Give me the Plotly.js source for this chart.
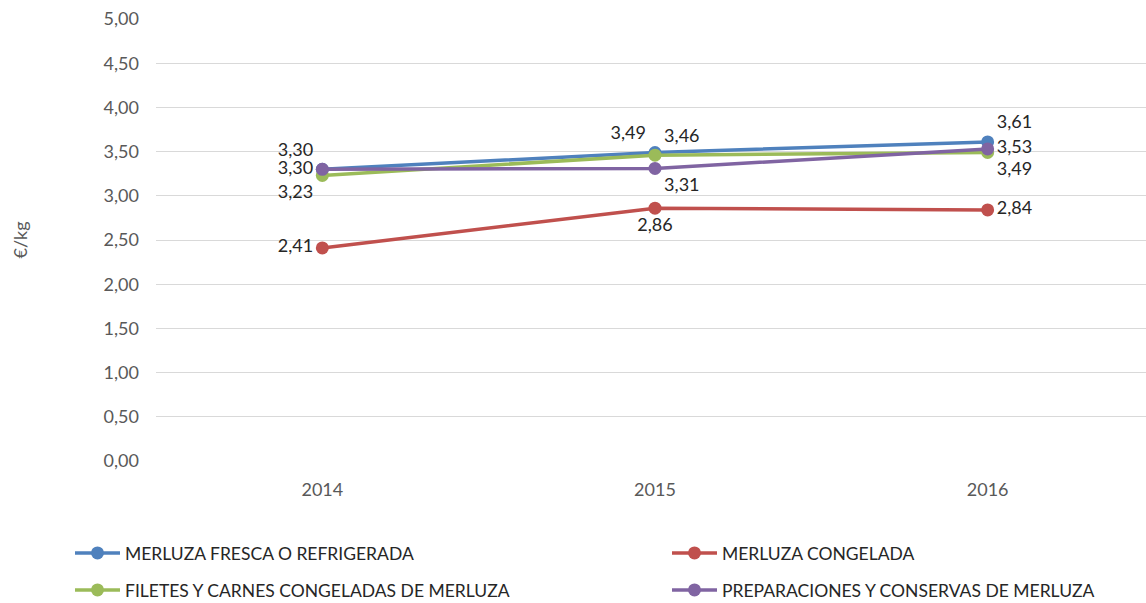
<!DOCTYPE html>
<html><head><meta charset="utf-8">
<script src="https://cdn.plot.ly/plotly-3.0.1.min.js"></script>
<style>html,body{margin:0;padding:0;overflow:hidden;background:#fff}</style>
</head><body><div id="chart" style="width:1146px;height:603px"></div>
<script>
const years = ['2014', '2015', '2016'];
const seriesNames = ['MERLUZA FRESCA O REFRIGERADA', 'MERLUZA CONGELADA', 'FILETES Y CARNES CONGELADAS DE MERLUZA', 'PREPARACIONES Y CONSERVAS DE MERLUZA'];
const fresca = [3.30, 3.49, 3.61];
const congelada = [2.41, 2.86, 2.84];
const filetes = [3.23, 3.46, 3.49];
const preparaciones = [3.30, 3.31, 3.53];
const yTicks = [0, 0.5, 1, 1.5, 2, 2.5, 3, 3.5, 4, 4.5, 5];

const colors = ['#4F81BD', '#C0504D', '#9BBB59', '#8064A2'];
const positions = [
  ['top left', 'top left', 'top right'],
  ['middle left', 'bottom center', 'middle right'],
  ['bottom left', 'top right', 'bottom right'],
  ['middle left', 'bottom right', 'middle right']
];
const legendIds = ['legend', 'legend2', 'legend3', 'legend4'];
const values = [fresca, congelada, filetes, preparaciones];
const traces = values.map((v, i) => ({
  type: 'scatter', mode: 'lines+markers+text',
  x: years, y: v, name: seriesNames[i],
  line: {color: colors[i], width: 3.5},
  marker: {color: colors[i], size: 13},
  texttemplate: '%{y:.2f}',
  textposition: positions[i],
  textfont: {family: 'Lato, sans-serif', size: 18, color: '#262626'},
  legend: legendIds[i],
  cliponaxis: false
}));

const legendBase = {
  orientation: 'h', xref: 'container', yref: 'container', xanchor: 'left', yanchor: 'middle',
  font: {family: 'Lato, sans-serif', size: 17.5, color: '#262626'},
  itemwidth: 45, bgcolor: 'rgba(0,0,0,0)'
};
const legendX = [70, 667, 70, 667];
const legendY = [553, 553, 590, 590];

const layout = {
  width: 1146, height: 603,
  margin: {l: 155.5, r: 0, t: 19, b: 142},
  paper_bgcolor: '#fff', plot_bgcolor: '#fff',
  separators: ',.',
  showlegend: true,
  xaxis: {
    type: 'category', range: [-0.5, 2.476],
    showgrid: false, zeroline: false, showline: false, ticks: '',
    tickfont: {family: 'Lato, sans-serif', size: 18, color: '#595959'},
    ticklabelstandoff: 16
  },
  yaxis: {
    range: [0, 5], tickvals: yTicks, tickformat: '.2f',
    showgrid: true, gridcolor: '#D9D9D9', gridwidth: 1,
    zeroline: false, showline: false, ticks: '',
    tickfont: {family: 'Lato, sans-serif', size: 18, color: '#595959'},
    ticklabelstandoff: 16,
    title: {text: '€/kg', font: {family: 'Lato, sans-serif', size: 18, color: '#595959'}, standoff: 71}
  }
};
legendIds.forEach((id, i) => {
  layout[id] = Object.assign({}, legendBase, {x: legendX[i] / 1146, y: 1 - legendY[i] / 603});
});

Plotly.newPlot('chart', traces, layout, {displayModeBar: false, staticPlot: true});
</script></body></html>
